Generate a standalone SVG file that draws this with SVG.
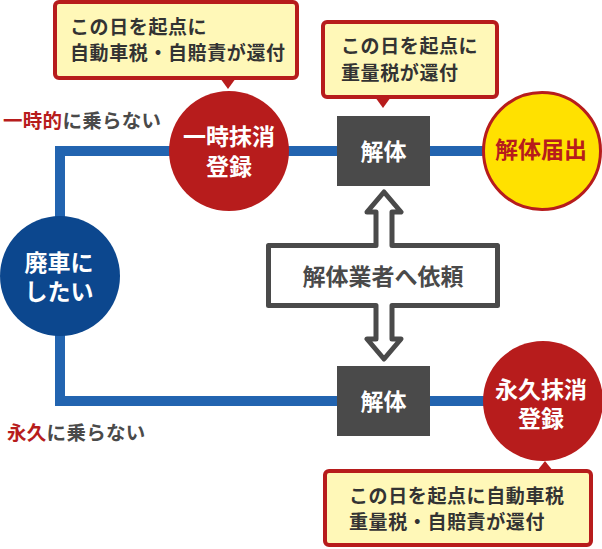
<svg xmlns="http://www.w3.org/2000/svg" width="602" height="549" viewBox="0 0 602 549">
<style>
text{font-family:"Noto Sans CJK JP","Noto Sans",sans-serif;font-weight:bold}
.call{fill:#fff8b8;stroke:#b71c1c;stroke-width:4}
.ptr{fill:#b71c1c}
.ct{font-size:19px;fill:#333;letter-spacing:0.6px}
.nt{font-size:23px;fill:#fff;text-anchor:middle}
.box{fill:#4a4a4a}
.lbl{font-size:19.5px;fill:#4a4a4a;letter-spacing:0.3px}
</style>
<g id="connectors">
<path d="M543 151 H60 V401 H543" fill="none" stroke="#2264b0" stroke-width="10"/>
</g>
<g id="arrow-request">
<path d="M384 192 L401 212 L392 212 L392 245.5 L497.5 245.5 L497.5 305.5 L392 305.5 L392 339 L401 339 L384 359 L367 339 L376 339 L376 305.5 L268.5 305.5 L268.5 245.5 L376 245.5 L376 212 L367 212 Z" fill="#fff" stroke="#4a4a4a" stroke-width="5" stroke-linejoin="round"/>
<text x="383" y="285" font-size="23" fill="#4a4a4a" text-anchor="middle">解体業者へ依頼</text>
</g>
<g id="node-haisha">
<circle cx="60" cy="276" r="60" fill="#0c478e"/>
<text class="nt" x="59" y="271">廃車に</text>
<text class="nt" x="59" y="300">したい</text>
</g>
<g id="node-ichiji">
<circle cx="229" cy="151" r="60" fill="#b71c1c"/>
<text class="nt" x="229" y="145">一時抹消</text>
<text class="nt" x="229" y="175">登録</text>
</g>
<g id="node-kaitai-top">
<rect class="box" x="337" y="116" width="93" height="70"/>
<text class="nt" x="383.5" y="160">解体</text>
</g>
<g id="node-todokede">
<circle cx="542" cy="151" r="58.5" fill="#ffe100" stroke="#b71c1c" stroke-width="3"/>
<text class="nt" x="541" y="158" style="fill:#b71c1c">解体届出</text>
</g>
<g id="node-kaitai-bottom">
<rect class="box" x="337" y="366" width="93" height="70"/>
<text class="nt" x="383.5" y="410">解体</text>
</g>
<g id="node-eikyu">
<circle cx="543" cy="401" r="60" fill="#b71c1c"/>
<text class="nt" x="541" y="398">永久抹消</text>
<text class="nt" x="541" y="427">登録</text>
</g>
<g id="callout-1">
<rect class="call" x="55" y="2" width="242" height="76" rx="4"/>
<polygon class="ptr" points="220,78 228,89 236,78"/>
<text class="ct" x="70" y="34">この日を起点に</text>
<text class="ct" x="70" y="60">自動車税・自賠責が還付</text>
</g>
<g id="callout-2">
<rect class="call" x="323" y="22" width="174" height="75" rx="4"/>
<polygon class="ptr" points="375,97 383,108 391,97"/>
<text class="ct" x="341" y="53">この日を起点に</text>
<text class="ct" x="341" y="80">重量税が還付</text>
</g>
<g id="callout-3">
<rect class="call" x="325" y="471" width="266" height="74" rx="4"/>
<polygon class="ptr" points="537,471 545,461 553,471"/>
<text class="ct" x="349" y="503">この日を起点に自動車税</text>
<text class="ct" x="349" y="529">重量税・自賠責が還付</text>
</g>
<g id="label-ichiji">
<text class="lbl" x="3" y="128"><tspan fill="#b71c1c">一時的</tspan>に乗らない</text>
</g>
<g id="label-eikyu">
<text class="lbl" x="7" y="440"><tspan fill="#b71c1c">永久</tspan>に乗らない</text>
</g>
</svg>
